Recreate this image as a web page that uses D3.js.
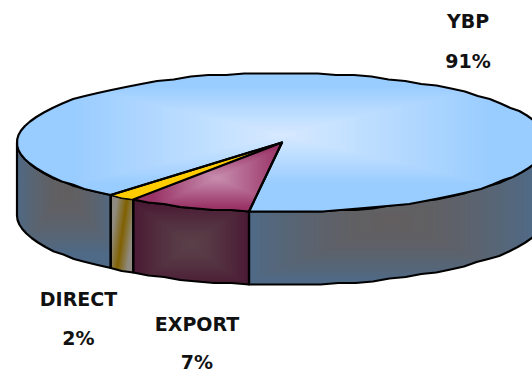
<!DOCTYPE html>
<html><head><meta charset="utf-8">
<script src="https://cdn.jsdelivr.net/npm/d3@7"></script>
<style>html,body{margin:0;padding:0;background:#fff;overflow:hidden}svg{display:block}
text{font-family:"DejaVu Sans",sans-serif;font-weight:700;font-size:19px;fill:#111}</style>
</head><body><svg id="c" width="532" height="374"></svg>
<script>
const categories = ["YBP","EXPORT","DIRECT"];
const shares = [90.8,7.5,1.7];
const percentLabels = ["91%","7%","2%"];

const cx=282, cy=142.5, rx=265, ry=69.5, depth=73;
const W=532,H=374;
const svg=d3.select("#c");
const defs=svg.append("defs");
const startDeg=187.15;
const order=[1,2,0];
const pie=d3.pie().sort(null).startAngle(startDeg*Math.PI/180).endAngle((startDeg+360)*Math.PI/180);
const arcs=pie(order.map(i=>shares[i]));
const byName={};
arcs.forEach((a,k)=>byName[categories[order[k]]]=a);

const snap=v=>Math.round(v/1.5)*1.5;
const px=a=>cx+rx*Math.sin(a), py=a=>snap(cy-ry*Math.cos(a));
const STEP=4*Math.PI/180;
function samples(a0,a1){
  const n=Math.max(1,Math.ceil((a1-a0)/STEP));
  return d3.range(n+1).map(i=>a0+(a1-a0)*i/n);
}
const line=d3.line();
const topPts=(a0,a1)=>samples(a0,a1).map(a=>[px(a),py(a)]);
const wallPts=(a0,a1)=>{
  const t=topPts(a0,a1);
  return t.concat(t.slice().reverse().map(p=>[p[0],p[1]+depth]));
};
let clipId=0;
function rectGradient(path,c0,c1,x0,y0,hw,hh,gamma=1,steps=32){
  const id="clip"+(clipId++);
  defs.append("clipPath").attr("id",id).append("path").attr("d",path);
  const g=svg.append("g").attr("clip-path",`url(#${id})`);
  const col=d3.interpolateRgb(c0,c1);
  g.append("rect").attr("width",W).attr("height",H+20).attr("fill",c1);
  g.selectAll("rect.s").data(d3.range(steps)).join("rect").attr("class","s")
    .attr("x",d=>x0-hw*(1-d/steps)).attr("y",d=>y0-hh*(1-d/steps))
    .attr("width",d=>2*hw*(1-d/steps)).attr("height",d=>2*hh*(1-d/steps))
    .attr("fill",d=>col(Math.pow(1-d/steps,gamma)));
}
function outline(path){
  svg.append("path").attr("d",path).attr("fill","none").attr("stroke","#000")
    .attr("stroke-width",2.2).attr("stroke-linejoin","round");
}
const slate="#4f6a87", mid="#625f60";
const ybp=byName.YBP, exp=byName.EXPORT, dir=byName.DIRECT;
const rad=d=>d*Math.PI/180;

// walls
const wallR=line(wallPts(rad(90),exp.startAngle))+"Z";
rectGradient(wallR,mid,slate,392,222,145,60,1.8);
const wallL=line(wallPts(dir.endAngle,rad(270)))+"Z";
rectGradient(wallL,mid,slate,66,190,50,65,1.8);
const wallE=line(wallPts(exp.startAngle,exp.endAngle))+"Z";
rectGradient(wallE,"#5a4048","#4a1a34",191,245,58,42,1.4);
const wallD=line(wallPts(exp.endAngle,dir.endAngle))+"Z";
const lg=defs.append("linearGradient").attr("id","dg").attr("gradientUnits","userSpaceOnUse")
  .attr("x1",112).attr("y1",233.6).attr("x2",132).attr("y2",236.4);
lg.selectAll("stop").data([["0%","#8f8b80"],["50%","#806000"],["100%","#8f8b80"]]).join("stop")
  .attr("offset",d=>d[0]).attr("stop-color",d=>d[1]);
svg.append("path").attr("d",wallD).attr("fill","url(#dg)");
[wallR,wallL,wallE,wallD].forEach(outline);

// top slices
const topY=line([[cx,cy],...topPts(ybp.startAngle,ybp.endAngle)])+"Z";
rectGradient(topY,"#d8eaff","#99ccff",282,135,212,50);
const topE=line([[cx,cy],...topPts(exp.startAngle,exp.endAngle)])+"Z";
rectGradient(topE,"#c890b0","#993366",217,178,65,30);
const topD=line([[cx,cy],...topPts(exp.endAngle,dir.endAngle)])+"Z";
svg.append("path").attr("d",topD).attr("fill","#ffcc00");
outline(topY);outline(topE);
svg.append("path").attr("d",topD).attr("fill","none").attr("stroke","#000").attr("stroke-width",1);
outline(line([[cx,cy],[px(dir.endAngle),py(dir.endAngle)]]));

// labels
const labelPos=[[468,28,68],[197,331,369],[78.5,306,345]];
categories.forEach((c,i)=>{
  const p=labelPos[i];
  svg.append("text").attr("x",p[0]).attr("y",p[1]).attr("text-anchor","middle").text(c);
  svg.append("text").attr("x",p[0]).attr("y",p[2]).attr("text-anchor","middle").text(percentLabels[i]);
});
</script></body></html>
